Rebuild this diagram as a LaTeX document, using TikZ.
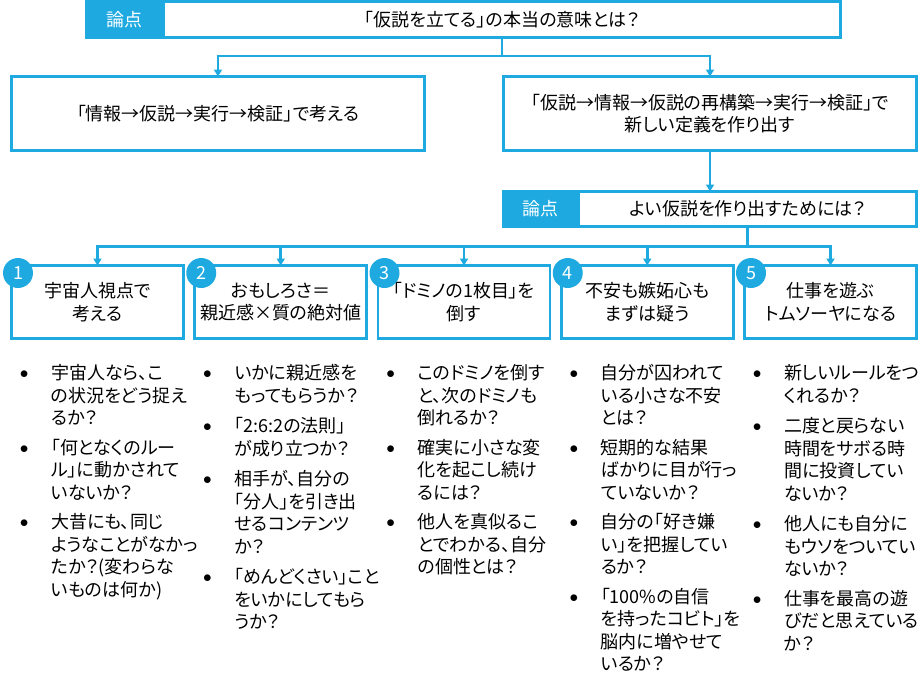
\documentclass[tikz,border=0pt]{standalone}
\usepackage{fontspec}
\setmainfont{Noto Sans CJK JP}[RawFeature=+palt]
\usetikzlibrary{arrows.meta,positioning}
\definecolor{ronblue}{RGB}{30,170,225}
\newcommand{\dotmark}{\llap{\makebox[54pt]{\raisebox{1pt}{$\bullet$}}}}

\begin{document}
\begin{tikzpicture}[
    x=1pt, y=-1pt,
    qbox/.style={draw=ronblue, line width=2.6pt, align=center, inner sep=0pt, outer sep=0pt},
    tagbox/.style={fill=ronblue, text=white, inner sep=0pt, outer sep=0pt},
    badge/.style={circle, fill=ronblue, text=white, inner sep=0pt, minimum size=30pt},
    qitem/.style={anchor=base west, align=left, inner sep=0pt}, % base = 最後の行
    link/.style={draw=ronblue, line width=2.6pt},
    >={Triangle[length=7pt, width=8pt]},
    font=\fontsize{18}{22.5}\selectfont
]
    \useasboundingbox (0,0) rectangle (920,696);

    % 論点 (上)
    \node[qbox, minimum width=677pt, minimum height=36pt] (q0) at (502,19.5) {「仮説を立てる」の本当の意味とは？};
    \node[tagbox, minimum width=78pt, minimum height=39pt] (tag0) at (124,19.5) {論点};

    % 2つの考え方
    \node[qbox, minimum width=413pt, minimum height=74pt] (way1) at (218,113.5) {「情報→仮説→実行→検証」で考える};
    \node[qbox, minimum width=413pt, minimum height=74pt] (way2) at (710,113.5) {「仮説→情報→仮説の再構築→実行→検証」で\\新しい定義を作り出す};

    % 論点 (下)
    \node[qbox, minimum width=338pt, minimum height=35pt] (q1) at (747.5,209) {よい仮説を作り出すためには？};
    \node[tagbox, minimum width=76pt, minimum height=38pt] (tag1) at (540,209) {論点};

    % 5つの答え
    \node[qbox, minimum width=172pt, minimum height=73pt] (b1) at (97.5,302)  {宇宙人視点で\\考える};
    \node[qbox, minimum width=172pt, minimum height=73pt] (b2) at (280.75,302) {おもしろさ＝\\親近感×質の絶対値};
    \node[qbox, minimum width=172pt, minimum height=73pt] (b3) at (464,302)  {「ドミノの1枚目」を\\倒す};
    \node[qbox, minimum width=172pt, minimum height=73pt] (b4) at (647.25,302) {不安も嫉妬心も\\まずは疑う};
    \node[qbox, minimum width=172pt, minimum height=73pt] (b5) at (830.5,302) {仕事を遊ぶ\\トムソーヤになる};

    % 番号
    \node[badge] (n1) at ([xshift=6.5pt,yshift=-7.5pt]b1.north west) {1};
    \node[badge] (n2) at ([xshift=6.5pt,yshift=-7.5pt]b2.north west) {2};
    \node[badge] (n3) at ([xshift=6.5pt,yshift=-7.5pt]b3.north west) {3};
    \node[badge] (n4) at ([xshift=6.5pt,yshift=-7.5pt]b4.north west) {4};
    \node[badge] (n5) at ([xshift=6.5pt,yshift=-7.5pt]b5.north west) {5};

    % 矢印
    \draw[link,->] (q0.south) -- ++(0,18.5) -| (way1.north);
    \draw[link,->] (q0.south) -- ++(0,18.5) -| (way2.north);
    \draw[link,->] (way2.south) -- (way2.south |- q1.north);
    \draw[link,->] (q1.south) -- ++(0,20) -| (b1.north);
    \draw[link,->] (q1.south) -- ++(0,20) -| (b2.north);
    \draw[link,->] (q1.south) -- ++(0,20) -| (b3.north);
    \draw[link,->] (q1.south) -- ++(0,20) -| (b4.north);
    \draw[link,->] (q1.south) -- ++(0,20) -| (b5.north);

    % 1列目
    \node[qitem] (i11) at (51,424.5) {\dotmark 宇宙人なら、こ\\の状況をどう捉え\\るか？};
    \node[qitem] (i12) at (51,499)   {\dotmark 「何となくのルー\\ル」に動かされて\\いないか？};
    \node[qitem] (i13) at (51,596)   {\dotmark 大昔にも、同じ\\ようなことがなかっ\\たか？(変わらな\\いものは何か)};

    % 2列目
    \node[qitem] (i21) at (234.25,402)   {\dotmark いかに親近感を\\もってもらうか？};
    \node[qitem] (i22) at (234.25,455)   {\dotmark 「2:6:2の法則」\\が成り立つか？};
    \node[qitem] (i23) at (234.25,553)   {\dotmark 相手が、自分の\\「分人」を引き出\\せるコンテンツ\\か？};
    \node[qitem] (i24) at (234.25,628.5) {\dotmark 「めんどくさい」こと\\をいかにしてもら\\うか？};

    % 3列目
    \node[qitem] (i31) at (417.5,424.5) {\dotmark このドミノを倒す\\と、次のドミノも\\倒れるか？};
    \node[qitem] (i32) at (417.5,499)   {\dotmark 確実に小さな変\\化を起こし続け\\るには？};
    \node[qitem] (i33) at (417.5,573.5) {\dotmark 他人を真似るこ\\とでわかる、自分\\の個性とは？};

    % 4列目
    \node[qitem] (i41) at (600.75,424.5) {\dotmark 自分が囚われて\\いる小さな不安\\とは？};
    \node[qitem] (i42) at (600.75,499)   {\dotmark 短期的な結果\\ばかりに目が行っ\\ていないか？};
    \node[qitem] (i43) at (600.75,573.5) {\dotmark 自分の「好き嫌\\い」を把握してい\\るか？};
    \node[qitem] (i44) at (600.75,670.5) {\dotmark 「100\%の自信\\を持ったコビト」を\\脳内に増やせて\\いるか？};

    % 5列目
    \node[qitem] (i51) at (784,402)   {\dotmark 新しいルールをつ\\くれるか？};
    \node[qitem] (i52) at (784,500)   {\dotmark 二度と戻らない\\時間をサボる時\\間に投資してい\\ないか？};
    \node[qitem] (i53) at (784,575.5) {\dotmark 他人にも自分に\\もウソをついてい\\ないか？};
    \node[qitem] (i54) at (784,650)   {\dotmark 仕事を最高の遊\\びだと思えている\\か？};
\end{tikzpicture}
\end{document}
